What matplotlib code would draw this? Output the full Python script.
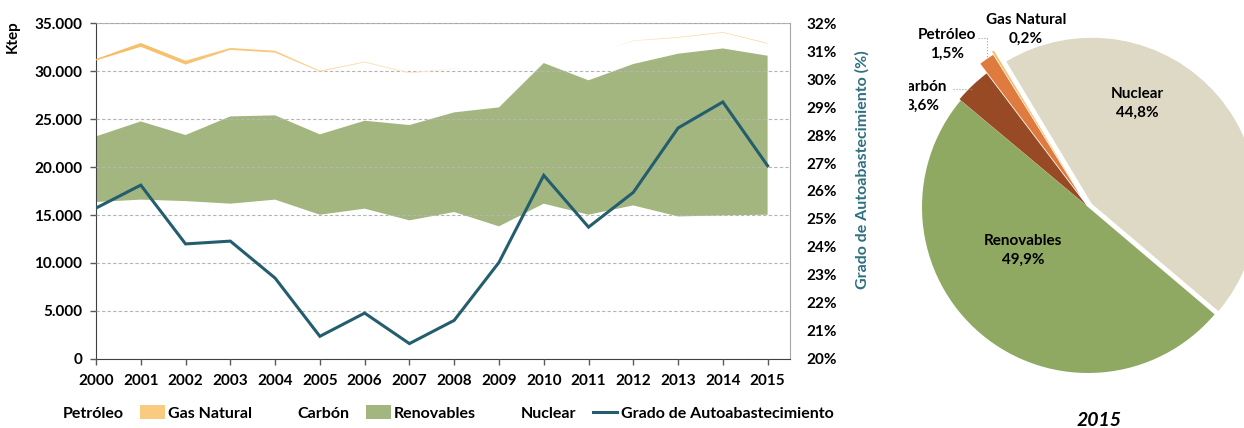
import matplotlib.pyplot as plt
import numpy as np
from matplotlib.patches import Patch
from matplotlib.lines import Line2D
from matplotlib.colors import to_rgb
from matplotlib.ticker import FuncFormatter, MultipleLocator

plt.rcParams['font.family'] = ['Lato', 'DejaVu Sans']
plt.rcParams['font.weight'] = 'bold'

# data (ktep)
years = list(range(2000, 2016))
nuclear = [16350, 16600, 16450, 16180, 16600, 15030, 15660, 14440,
           15310, 13820, 16180, 15030, 16000, 14850, 14960, 15030]
renovables = [6840, 8150, 6880, 9090, 8780, 8370, 9160, 9930,
              10380, 12390, 14650, 14000, 14730, 16950, 17390, 16560]
carbon = [7680, 7430, 7020, 6610, 6280, 6360, 5930, 5240,
          4400, 3700, 3170, 2490, 2240, 1290, 1320, 1010]
petroleo = [230, 340, 320, 320, 250, 170, 140, 140,
            130, 110, 120, 100, 140, 370, 310, 240]
gas_natural = [150, 400, 400, 200, 200, 100, 80, 100,
               80, 80, 80, 80, 80, 80, 80, 80]
autoabastecimiento = [25.39, 26.21, 24.11, 24.21, 22.89, 20.81, 21.64, 20.55,
                      21.38, 23.45, 26.56, 24.71, 25.95, 28.25, 29.18, 26.90]

# 2015 structure (%)
pie_names = ["Nuclear", "Renovables", "Carbón", "Petróleo", "Gas Natural"]
pie_shares = [44.8, 49.9, 3.6, 1.5, 0.2]

GREEN = '#A3B67F'
TEAL = '#245E6E'
W, H = 1244, 428
FS = 11

fig = plt.figure(figsize=(W / 100, H / 100), dpi=100)

# ---- left chart ----
ax = fig.add_axes([96 / W, 69 / H, 694 / W, 336 / H])
polys = ax.stackplot(years, nuclear, renovables, carbon, petroleo, gas_natural,
                     colors=['none', GREEN, 'none', 'none', 'none'], linewidth=0)

# gas band: horizontal gradient, clipped to its polygon
stops = [(2000, '#F6BC62'), (2004, '#F9CB80'), (2007, '#FCE6BE'), (2008.5, '#FFFFFF'),
         (2011.5, '#FFFFFF'), (2012.5, '#FBE0B4'), (2015, '#F9D8A6')]
xs = np.linspace(2000, 2015, 300)
grad = np.zeros((1, 300, 3))
for c in range(3):
    grad[0, :, c] = np.interp(xs, [s[0] for s in stops], [to_rgb(s[1])[c] for s in stops])
im = ax.imshow(grad, extent=(2000, 2015, 0, 36000), aspect='auto', zorder=3,
               interpolation='bilinear')
gas_path = polys[4].get_paths()[0]
im.set_clip_path(gas_path, ax.transData)

ax.set_xlim(2000, 2015.5)
ax.set_ylim(0, 35000)
ax.set_xticks(years)
ax.yaxis.set_major_locator(MultipleLocator(5000))
ax.yaxis.set_major_formatter(FuncFormatter(lambda v, p: f"{int(v):,}".replace(',', '.')))
ax.grid(axis='y', color='#B5B5B5', linestyle=(0, (3, 2)), linewidth=0.8)
ax.set_axisbelow(False)
ax.tick_params(axis='both', labelsize=FS, colors='#000000', length=4, width=1,
               direction='out')
ax.tick_params(axis='x', pad=7, color='#595959')
ax.tick_params(axis='y', pad=6, color='#595959')
for lab in ax.get_xticklabels() + ax.get_yticklabels():
    lab.set_fontweight('bold')
for s in ['left', 'bottom']:
    ax.spines[s].set_color('#404040')
for s in ['top', 'right']:
    ax.spines[s].set_color('#A6A6A6')
ax.set_ylabel('Ktep', fontsize=FS, fontweight='bold')
ax.yaxis.set_label_coords(-0.11, 0.96)

ax2 = ax.twinx()
ax2.plot(years, autoabastecimiento, color=TEAL, linewidth=2.2, solid_joinstyle='miter')
ax2.set_ylim(20, 32)
ax2.yaxis.set_major_locator(MultipleLocator(1))
ax2.yaxis.set_major_formatter(FuncFormatter(lambda v, p: f"{int(round(v))}%"))
ax2.tick_params(axis='y', length=0, pad=12, labelsize=FS)
for lab in ax2.get_yticklabels():
    lab.set_fontweight('bold')
for s in ax2.spines.values():
    s.set_visible(False)
ax2.set_ylabel('Grado de Autoabastecimiento (%)', color='#2E7080',
               fontsize=11.5, fontweight='bold')
ax2.yaxis.set_label_coords(1.094, 0.565)

handles = [Patch(facecolor='none', edgecolor='none'),
           Patch(facecolor='#F9CB80', edgecolor='none'),
           Patch(facecolor='none', edgecolor='none'),
           Patch(facecolor=GREEN, edgecolor='none'),
           Patch(facecolor='none', edgecolor='none'),
           Line2D([0], [0], color=TEAL, linewidth=2.2)]
labels = ['Petróleo', 'Gas Natural', 'Carbón', 'Renovables', 'Nuclear',
          'Grado de Autoabastecimiento']
fig.legend(handles, labels, loc='center', bbox_to_anchor=(434 / W, 1 - 413 / H),
           ncol=6, frameon=False, handlelength=1.55,
           handleheight=0.9, handletextpad=0.2, columnspacing=1.05,
           prop={'weight': 'bold', 'size': 11.5})

# ---- pie 2015 ----
R = 166
cx, cy = 1088, 207
left_px = 909
pax = fig.add_axes([left_px / W, 0, (W - left_px) / W, 1])
pie_colors = ['#DDD9C4', '#8FA862', '#974A24', '#E07B3F', '#F7BE6B']
pax.pie(pie_shares, colors=pie_colors, startangle=121, counterclock=False,
        explode=[0.03, 0, 0.01, 0.08, 0.1],
        wedgeprops=dict(linewidth=0))
pax.set_xlim((left_px - cx) / R, (W - cx) / R)
pax.set_ylim((cy - H) / R, cy / R)
pax.axis('off')


def p2d(px, py):
    return (px - cx) / R, (cy - py) / R


def pct(v):
    return f"{v:.1f}%".replace('.', ',')


label_pos = {"Nuclear": (1137, 103), "Renovables": (1023, 250),
             "Carbón": (922, 96), "Petróleo": (947, 44), "Gas Natural": (1026, 29)}
for name, share in zip(pie_names, pie_shares):
    x, y = p2d(*label_pos[name])
    pax.text(x, y, f"{name}\n{pct(share)}", ha='center', va='center',
             fontsize=FS, fontweight='bold', linespacing=1.45, clip_on=True)

# leader lines
lx, ly = zip(p2d(953, 89), p2d(973, 89))
pax.plot(lx, ly, color='#A0A0A0', linestyle=':', linewidth=0.8)
lx, ly = zip(p2d(978, 38), p2d(987, 38), p2d(987, 57))
pax.plot(lx, ly, color='#A0A0A0', linestyle=':', linewidth=0.8)

fig.text(1099 / W, 1 - 420 / H, '2015', ha='center', va='center',
         fontsize=14, fontweight='bold', style='italic')

fig.savefig('out.png', dpi=100)
